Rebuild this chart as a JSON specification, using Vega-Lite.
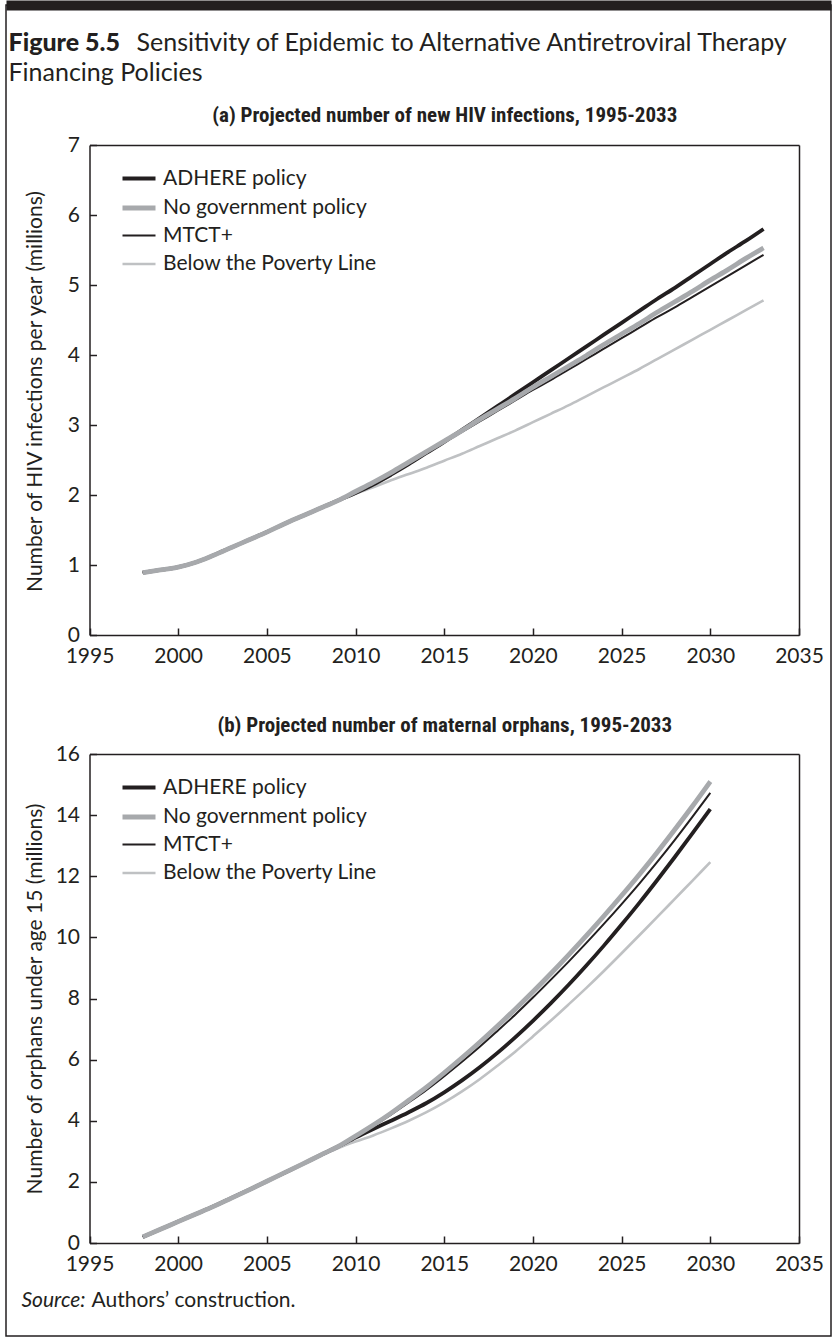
{
  "$schema": "https://vega.github.io/schema/vega-lite/v6.json",
  "autosize": {"type": "none"},
  "padding": {"left": 6, "top": 5, "right": 6, "bottom": 4},
  "width": 825,
  "height": 1331,
  "background": "white",
  "datasets": {
    "hiv": [
      {"policy":"Below the Poverty Line","year":1998,"value":0.89},{"policy":"Below the Poverty Line","year":1999,"value":0.93},{"policy":"Below the Poverty Line","year":2000,"value":0.97},{"policy":"Below the Poverty Line","year":2001,"value":1.04},{"policy":"Below the Poverty Line","year":2002,"value":1.14},{"policy":"Below the Poverty Line","year":2003,"value":1.25},{"policy":"Below the Poverty Line","year":2004,"value":1.36},{"policy":"Below the Poverty Line","year":2005,"value":1.47},{"policy":"Below the Poverty Line","year":2006,"value":1.59},{"policy":"Below the Poverty Line","year":2007,"value":1.70},{"policy":"Below the Poverty Line","year":2008,"value":1.81},{"policy":"Below the Poverty Line","year":2009,"value":1.92},
      {"policy":"Below the Poverty Line","year":2010,"value":2.02},{"policy":"Below the Poverty Line","year":2011,"value":2.11},{"policy":"Below the Poverty Line","year":2012,"value":2.21},{"policy":"Below the Poverty Line","year":2013,"value":2.30},{"policy":"Below the Poverty Line","year":2014,"value":2.39},{"policy":"Below the Poverty Line","year":2015,"value":2.49},{"policy":"Below the Poverty Line","year":2016,"value":2.59},{"policy":"Below the Poverty Line","year":2017,"value":2.70},{"policy":"Below the Poverty Line","year":2018,"value":2.81},{"policy":"Below the Poverty Line","year":2019,"value":2.92},{"policy":"Below the Poverty Line","year":2020,"value":3.04},{"policy":"Below the Poverty Line","year":2021,"value":3.16},{"policy":"Below the Poverty Line","year":2022,"value":3.28},{"policy":"Below the Poverty Line","year":2023,"value":3.41},{"policy":"Below the Poverty Line","year":2024,"value":3.54},{"policy":"Below the Poverty Line","year":2025,"value":3.67},{"policy":"Below the Poverty Line","year":2026,"value":3.80},{"policy":"Below the Poverty Line","year":2027,"value":3.94},{"policy":"Below the Poverty Line","year":2028,"value":4.08},{"policy":"Below the Poverty Line","year":2029,"value":4.22},{"policy":"Below the Poverty Line","year":2030,"value":4.36},{"policy":"Below the Poverty Line","year":2031,"value":4.50},{"policy":"Below the Poverty Line","year":2032,"value":4.64},{"policy":"Below the Poverty Line","year":2033,"value":4.78},
      {"policy":"MTCT+","year":1998,"value":0.89},{"policy":"MTCT+","year":1999,"value":0.93},{"policy":"MTCT+","year":2000,"value":0.97},{"policy":"MTCT+","year":2001,"value":1.04},{"policy":"MTCT+","year":2002,"value":1.14},{"policy":"MTCT+","year":2003,"value":1.25},{"policy":"MTCT+","year":2004,"value":1.36},{"policy":"MTCT+","year":2005,"value":1.47},{"policy":"MTCT+","year":2006,"value":1.59},{"policy":"MTCT+","year":2007,"value":1.70},{"policy":"MTCT+","year":2008,"value":1.81},{"policy":"MTCT+","year":2009,"value":1.92},
      {"policy":"MTCT+","year":2010,"value":2.04},{"policy":"MTCT+","year":2011,"value":2.17},{"policy":"MTCT+","year":2012,"value":2.31},{"policy":"MTCT+","year":2013,"value":2.45},{"policy":"MTCT+","year":2014,"value":2.60},{"policy":"MTCT+","year":2015,"value":2.75},{"policy":"MTCT+","year":2016,"value":2.90},{"policy":"MTCT+","year":2017,"value":3.05},{"policy":"MTCT+","year":2018,"value":3.20},{"policy":"MTCT+","year":2019,"value":3.35},{"policy":"MTCT+","year":2020,"value":3.50},{"policy":"MTCT+","year":2021,"value":3.64},{"policy":"MTCT+","year":2022,"value":3.79},{"policy":"MTCT+","year":2023,"value":3.94},{"policy":"MTCT+","year":2024,"value":4.09},{"policy":"MTCT+","year":2025,"value":4.24},{"policy":"MTCT+","year":2026,"value":4.39},{"policy":"MTCT+","year":2027,"value":4.54},{"policy":"MTCT+","year":2028,"value":4.68},{"policy":"MTCT+","year":2029,"value":4.83},{"policy":"MTCT+","year":2030,"value":4.98},{"policy":"MTCT+","year":2031,"value":5.13},{"policy":"MTCT+","year":2032,"value":5.28},{"policy":"MTCT+","year":2033,"value":5.43},
      {"policy":"ADHERE policy","year":1998,"value":0.89},{"policy":"ADHERE policy","year":1999,"value":0.93},{"policy":"ADHERE policy","year":2000,"value":0.97},{"policy":"ADHERE policy","year":2001,"value":1.04},{"policy":"ADHERE policy","year":2002,"value":1.14},{"policy":"ADHERE policy","year":2003,"value":1.25},{"policy":"ADHERE policy","year":2004,"value":1.36},{"policy":"ADHERE policy","year":2005,"value":1.47},{"policy":"ADHERE policy","year":2006,"value":1.59},{"policy":"ADHERE policy","year":2007,"value":1.70},{"policy":"ADHERE policy","year":2008,"value":1.81},{"policy":"ADHERE policy","year":2009,"value":1.92},
      {"policy":"ADHERE policy","year":2010,"value":2.03},{"policy":"ADHERE policy","year":2011,"value":2.15},{"policy":"ADHERE policy","year":2012,"value":2.29},{"policy":"ADHERE policy","year":2013,"value":2.44},{"policy":"ADHERE policy","year":2014,"value":2.60},{"policy":"ADHERE policy","year":2015,"value":2.76},{"policy":"ADHERE policy","year":2016,"value":2.93},{"policy":"ADHERE policy","year":2017,"value":3.10},{"policy":"ADHERE policy","year":2018,"value":3.27},{"policy":"ADHERE policy","year":2019,"value":3.44},{"policy":"ADHERE policy","year":2020,"value":3.61},{"policy":"ADHERE policy","year":2021,"value":3.78},{"policy":"ADHERE policy","year":2022,"value":3.95},{"policy":"ADHERE policy","year":2023,"value":4.12},{"policy":"ADHERE policy","year":2024,"value":4.29},{"policy":"ADHERE policy","year":2025,"value":4.46},{"policy":"ADHERE policy","year":2026,"value":4.63},{"policy":"ADHERE policy","year":2027,"value":4.80},{"policy":"ADHERE policy","year":2028,"value":4.96},{"policy":"ADHERE policy","year":2029,"value":5.13},{"policy":"ADHERE policy","year":2030,"value":5.30},{"policy":"ADHERE policy","year":2031,"value":5.47},{"policy":"ADHERE policy","year":2032,"value":5.63},{"policy":"ADHERE policy","year":2033,"value":5.80},
      {"policy":"No government policy","year":1998,"value":0.89},{"policy":"No government policy","year":1999,"value":0.93},{"policy":"No government policy","year":2000,"value":0.97},{"policy":"No government policy","year":2001,"value":1.04},{"policy":"No government policy","year":2002,"value":1.14},{"policy":"No government policy","year":2003,"value":1.25},{"policy":"No government policy","year":2004,"value":1.36},{"policy":"No government policy","year":2005,"value":1.47},{"policy":"No government policy","year":2006,"value":1.59},{"policy":"No government policy","year":2007,"value":1.70},{"policy":"No government policy","year":2008,"value":1.81},{"policy":"No government policy","year":2009,"value":1.92},
      {"policy":"No government policy","year":2010,"value":2.05},{"policy":"No government policy","year":2011,"value":2.18},{"policy":"No government policy","year":2012,"value":2.32},{"policy":"No government policy","year":2013,"value":2.47},{"policy":"No government policy","year":2014,"value":2.62},{"policy":"No government policy","year":2015,"value":2.77},{"policy":"No government policy","year":2016,"value":2.92},{"policy":"No government policy","year":2017,"value":3.08},{"policy":"No government policy","year":2018,"value":3.23},{"policy":"No government policy","year":2019,"value":3.38},{"policy":"No government policy","year":2020,"value":3.54},{"policy":"No government policy","year":2021,"value":3.69},{"policy":"No government policy","year":2022,"value":3.84},{"policy":"No government policy","year":2023,"value":3.99},{"policy":"No government policy","year":2024,"value":4.15},{"policy":"No government policy","year":2025,"value":4.30},{"policy":"No government policy","year":2026,"value":4.45},{"policy":"No government policy","year":2027,"value":4.61},{"policy":"No government policy","year":2028,"value":4.76},{"policy":"No government policy","year":2029,"value":4.91},{"policy":"No government policy","year":2030,"value":5.07},{"policy":"No government policy","year":2031,"value":5.22},{"policy":"No government policy","year":2032,"value":5.38},{"policy":"No government policy","year":2033,"value":5.53}
    ],
    "orph": [
      {"policy":"Below the Poverty Line","year":1998,"value":0.20},{"policy":"Below the Poverty Line","year":1999,"value":0.45},{"policy":"Below the Poverty Line","year":2000,"value":0.70},{"policy":"Below the Poverty Line","year":2001,"value":0.95},{"policy":"Below the Poverty Line","year":2002,"value":1.20},{"policy":"Below the Poverty Line","year":2003,"value":1.47},{"policy":"Below the Poverty Line","year":2004,"value":1.74},{"policy":"Below the Poverty Line","year":2005,"value":2.02},{"policy":"Below the Poverty Line","year":2006,"value":2.30},{"policy":"Below the Poverty Line","year":2007,"value":2.58},{"policy":"Below the Poverty Line","year":2008,"value":2.85},{"policy":"Below the Poverty Line","year":2009,"value":3.10},
      {"policy":"Below the Poverty Line","year":2010,"value":3.32},{"policy":"Below the Poverty Line","year":2011,"value":3.52},{"policy":"Below the Poverty Line","year":2012,"value":3.75},{"policy":"Below the Poverty Line","year":2013,"value":4.00},{"policy":"Below the Poverty Line","year":2014,"value":4.28},{"policy":"Below the Poverty Line","year":2015,"value":4.60},{"policy":"Below the Poverty Line","year":2016,"value":4.96},{"policy":"Below the Poverty Line","year":2017,"value":5.36},{"policy":"Below the Poverty Line","year":2018,"value":5.80},{"policy":"Below the Poverty Line","year":2019,"value":6.26},{"policy":"Below the Poverty Line","year":2020,"value":6.76},{"policy":"Below the Poverty Line","year":2021,"value":7.27},{"policy":"Below the Poverty Line","year":2022,"value":7.80},{"policy":"Below the Poverty Line","year":2023,"value":8.34},{"policy":"Below the Poverty Line","year":2024,"value":8.90},{"policy":"Below the Poverty Line","year":2025,"value":9.48},{"policy":"Below the Poverty Line","year":2026,"value":10.07},{"policy":"Below the Poverty Line","year":2027,"value":10.66},{"policy":"Below the Poverty Line","year":2028,"value":11.26},{"policy":"Below the Poverty Line","year":2029,"value":11.86},{"policy":"Below the Poverty Line","year":2030,"value":12.46},
      {"policy":"MTCT+","year":1998,"value":0.20},{"policy":"MTCT+","year":1999,"value":0.45},{"policy":"MTCT+","year":2000,"value":0.70},{"policy":"MTCT+","year":2001,"value":0.95},{"policy":"MTCT+","year":2002,"value":1.20},{"policy":"MTCT+","year":2003,"value":1.47},{"policy":"MTCT+","year":2004,"value":1.74},{"policy":"MTCT+","year":2005,"value":2.02},{"policy":"MTCT+","year":2006,"value":2.30},{"policy":"MTCT+","year":2007,"value":2.58},{"policy":"MTCT+","year":2008,"value":2.87},{"policy":"MTCT+","year":2009,"value":3.15},
      {"policy":"MTCT+","year":2010,"value":3.48},{"policy":"MTCT+","year":2011,"value":3.83},{"policy":"MTCT+","year":2012,"value":4.20},{"policy":"MTCT+","year":2013,"value":4.60},{"policy":"MTCT+","year":2014,"value":5.01},{"policy":"MTCT+","year":2015,"value":5.46},{"policy":"MTCT+","year":2016,"value":5.93},{"policy":"MTCT+","year":2017,"value":6.42},{"policy":"MTCT+","year":2018,"value":6.94},{"policy":"MTCT+","year":2019,"value":7.47},{"policy":"MTCT+","year":2020,"value":8.03},{"policy":"MTCT+","year":2021,"value":8.61},{"policy":"MTCT+","year":2022,"value":9.20},{"policy":"MTCT+","year":2023,"value":9.81},{"policy":"MTCT+","year":2024,"value":10.44},{"policy":"MTCT+","year":2025,"value":11.09},{"policy":"MTCT+","year":2026,"value":11.76},{"policy":"MTCT+","year":2027,"value":12.46},{"policy":"MTCT+","year":2028,"value":13.19},{"policy":"MTCT+","year":2029,"value":13.95},{"policy":"MTCT+","year":2030,"value":14.73},
      {"policy":"ADHERE policy","year":1998,"value":0.20},{"policy":"ADHERE policy","year":1999,"value":0.45},{"policy":"ADHERE policy","year":2000,"value":0.70},{"policy":"ADHERE policy","year":2001,"value":0.95},{"policy":"ADHERE policy","year":2002,"value":1.20},{"policy":"ADHERE policy","year":2003,"value":1.47},{"policy":"ADHERE policy","year":2004,"value":1.74},{"policy":"ADHERE policy","year":2005,"value":2.02},{"policy":"ADHERE policy","year":2006,"value":2.30},{"policy":"ADHERE policy","year":2007,"value":2.58},{"policy":"ADHERE policy","year":2008,"value":2.87},{"policy":"ADHERE policy","year":2009,"value":3.15},
      {"policy":"ADHERE policy","year":2010,"value":3.45},{"policy":"ADHERE policy","year":2011,"value":3.73},{"policy":"ADHERE policy","year":2012,"value":4.00},{"policy":"ADHERE policy","year":2013,"value":4.28},{"policy":"ADHERE policy","year":2014,"value":4.58},{"policy":"ADHERE policy","year":2015,"value":4.93},{"policy":"ADHERE policy","year":2016,"value":5.32},{"policy":"ADHERE policy","year":2017,"value":5.75},{"policy":"ADHERE policy","year":2018,"value":6.22},{"policy":"ADHERE policy","year":2019,"value":6.73},{"policy":"ADHERE policy","year":2020,"value":7.27},{"policy":"ADHERE policy","year":2021,"value":7.84},{"policy":"ADHERE policy","year":2022,"value":8.44},{"policy":"ADHERE policy","year":2023,"value":9.07},{"policy":"ADHERE policy","year":2024,"value":9.73},{"policy":"ADHERE policy","year":2025,"value":10.42},{"policy":"ADHERE policy","year":2026,"value":11.13},{"policy":"ADHERE policy","year":2027,"value":11.87},{"policy":"ADHERE policy","year":2028,"value":12.63},{"policy":"ADHERE policy","year":2029,"value":13.41},{"policy":"ADHERE policy","year":2030,"value":14.20},
      {"policy":"No government policy","year":1998,"value":0.20},{"policy":"No government policy","year":1999,"value":0.45},{"policy":"No government policy","year":2000,"value":0.70},{"policy":"No government policy","year":2001,"value":0.95},{"policy":"No government policy","year":2002,"value":1.20},{"policy":"No government policy","year":2003,"value":1.47},{"policy":"No government policy","year":2004,"value":1.74},{"policy":"No government policy","year":2005,"value":2.02},{"policy":"No government policy","year":2006,"value":2.30},{"policy":"No government policy","year":2007,"value":2.58},{"policy":"No government policy","year":2008,"value":2.87},{"policy":"No government policy","year":2009,"value":3.15},
      {"policy":"No government policy","year":2010,"value":3.50},{"policy":"No government policy","year":2011,"value":3.86},{"policy":"No government policy","year":2012,"value":4.25},{"policy":"No government policy","year":2013,"value":4.67},{"policy":"No government policy","year":2014,"value":5.10},{"policy":"No government policy","year":2015,"value":5.57},{"policy":"No government policy","year":2016,"value":6.06},{"policy":"No government policy","year":2017,"value":6.57},{"policy":"No government policy","year":2018,"value":7.10},{"policy":"No government policy","year":2019,"value":7.65},{"policy":"No government policy","year":2020,"value":8.22},{"policy":"No government policy","year":2021,"value":8.81},{"policy":"No government policy","year":2022,"value":9.42},{"policy":"No government policy","year":2023,"value":10.05},{"policy":"No government policy","year":2024,"value":10.70},{"policy":"No government policy","year":2025,"value":11.37},{"policy":"No government policy","year":2026,"value":12.06},{"policy":"No government policy","year":2027,"value":12.78},{"policy":"No government policy","year":2028,"value":13.53},{"policy":"No government policy","year":2029,"value":14.30},{"policy":"No government policy","year":2030,"value":15.10}
    ],
    "empty": []
  },
  "layer": [
    {
      "data": {"name": "empty"},
      "mark": {"type": "line"},
      "encoding": {
        "x": {"field": "year", "type": "quantitative", "scale": {"domain": [0, 1], "range": [0, 825], "nice": false, "zero": false},
              "axis": {"orient": "top", "offset": 0, "ticks": false, "labels": false, "grid": false, "domainWidth": 10, "domainColor": "#231f20",
                       "title": "Figure 5.5", "titleFont": "Lato", "titleFontSize": 25, "titleFontWeight": 900, "titleColor": "#231f20",
                       "titleX": 2, "titleY": 37, "titleAlign": "left", "titleBaseline": "middle", "titleAngle": 0}},
        "y": {"field": "value", "type": "quantitative", "scale": {"domain": [0, 1], "range": [1331, 0], "nice": false, "zero": false},
              "axis": {"orient": "left", "offset": 0, "domain": false, "ticks": false, "labels": false, "grid": false,
                       "title": "Sensitivity of Epidemic to Alternative Antiretroviral Therapy", "titleFont": "Lato", "titleFontSize": 25, "titleFontWeight": "normal", "titleColor": "#231f20",
                       "titleX": 130, "titleY": 37, "titleAlign": "left", "titleBaseline": "middle", "titleAngle": 0}}
      }
    },
    {
      "data": {"name": "hiv"},
      "mark": {"type": "line", "interpolate": "monotone"},
      "encoding": {
        "x": {"field": "year", "type": "quantitative", "scale": {"domain": [1995, 2035], "range": [83.5, 793], "nice": false, "zero": false},
              "axis": {"orient": "bottom", "offset": -701, "values": [1995, 2000, 2005, 2010, 2015, 2020, 2025, 2030, 2035], "format": "d", "title": null}},
        "y": {"field": "value", "type": "quantitative", "scale": {"domain": [0, 7], "range": [630, 140], "nice": false, "zero": false},
              "axis": {"orient": "left", "offset": -83.5, "values": [0, 1, 2, 3, 4, 5, 6, 7], "title": "Number of HIV infections per year (millions)", "titleX": -44.5, "titleY": 386}},
        "color": {"field": "policy", "type": "nominal", "scale": {"domain": ["ADHERE policy", "No government policy", "MTCT+", "Below the Poverty Line"], "range": ["#231f20", "#a7a9ac", "#231f20", "#bfc1c3"]},
                  "legend": {"orient": "none", "legendX": 114, "legendY": 155, "title": null}},
        "strokeWidth": {"field": "policy", "type": "nominal", "scale": {"type": "ordinal", "domain": ["ADHERE policy", "No government policy", "MTCT+", "Below the Poverty Line"], "range": [3.8, 4.8, 2.0, 2.6]},
                  "legend": {"orient": "none", "legendX": 114, "legendY": 155, "title": null}}
      }
    },
    {
      "data": {"name": "empty"},
      "mark": {"type": "line"},
      "encoding": {
        "x": {"field": "year", "type": "quantitative", "scale": {"domain": [1995, 2035], "range": [83.5, 793], "nice": false, "zero": false},
              "axis": {"orient": "top", "offset": -140, "ticks": false, "labels": false, "grid": false,
                       "title": "(a) Projected number of new HIV infections, 1995-2033", "titleFont": "Roboto Condensed, DejaVu Sans Condensed, Roboto", "titleFontSize": 21, "titleFontWeight": "bold",
                       "titleX": 438.25, "titleY": -30, "titleAlign": "center", "titleBaseline": "middle", "titleAngle": 0}},
        "y": {"field": "value", "type": "quantitative", "scale": {"domain": [0, 7], "range": [630, 140], "nice": false, "zero": false},
              "axis": {"orient": "right", "offset": -32, "ticks": false, "labels": false, "grid": false,
                       "title": "Financing Policies", "titleFont": "Lato", "titleFontSize": 25, "titleFontWeight": "normal",
                       "titleX": -791, "titleY": 67, "titleAlign": "left", "titleBaseline": "middle", "titleAngle": 0}}
      }
    },
    {
      "data": {"name": "orph"},
      "mark": {"type": "line", "interpolate": "monotone"},
      "encoding": {
        "x": {"field": "year", "type": "quantitative", "scale": {"domain": [1995, 2035], "range": [83.5, 793], "nice": false, "zero": false},
              "axis": {"orient": "bottom", "offset": -93, "values": [1995, 2000, 2005, 2010, 2015, 2020, 2025, 2030, 2035], "format": "d",
                       "title": "Source:", "titleFont": "Lato", "titleFontSize": 21, "titleFontStyle": "italic", "titleFontWeight": "normal",
                       "titleX": 15, "titleY": 57, "titleAlign": "left", "titleBaseline": "middle", "titleAngle": 0}},
        "y": {"field": "value", "type": "quantitative", "scale": {"domain": [0, 16], "range": [1238, 749], "nice": false, "zero": false},
              "axis": {"orient": "left", "offset": -83.5, "values": [0, 2, 4, 6, 8, 10, 12, 14, 16], "title": "Number of orphans under age 15 (millions)", "titleX": -44.5, "titleY": 993.5}},
        "color": {"field": "policy", "type": "nominal", "scale": {"domain": ["ADHERE policy", "No government policy", "MTCT+", "Below the Poverty Line"], "range": ["#231f20", "#a7a9ac", "#231f20", "#bfc1c3"]},
                  "legend": {"orient": "none", "legendX": 114, "legendY": 764, "title": null}},
        "strokeWidth": {"field": "policy", "type": "nominal", "scale": {"type": "ordinal", "domain": ["ADHERE policy", "No government policy", "MTCT+", "Below the Poverty Line"], "range": [3.8, 4.8, 2.0, 2.6]},
                  "legend": {"orient": "none", "legendX": 114, "legendY": 764, "title": null}}
      }
    },
    {
      "data": {"name": "empty"},
      "mark": {"type": "line"},
      "encoding": {
        "x": {"field": "year", "type": "quantitative", "scale": {"domain": [1995, 2035], "range": [83.5, 793], "nice": false, "zero": false},
              "axis": {"orient": "top", "offset": -749, "ticks": false, "labels": false, "grid": false,
                       "title": "(b) Projected number of maternal orphans, 1995-2033", "titleFont": "Roboto Condensed, DejaVu Sans Condensed, Roboto", "titleFontSize": 21, "titleFontWeight": "bold",
                       "titleX": 438.25, "titleY": -29, "titleAlign": "center", "titleBaseline": "middle", "titleAngle": 0}},
        "y": {"field": "value", "type": "quantitative", "scale": {"domain": [0, 16], "range": [1238, 749], "nice": false, "zero": false},
              "axis": {"orient": "right", "offset": -32, "ticks": false, "labels": false, "grid": false,
                       "title": "Authors\u2019 construction.", "titleFont": "Lato", "titleFontSize": 21, "titleFontWeight": "normal",
                       "titleX": -708, "titleY": 1295, "titleAlign": "left", "titleBaseline": "middle", "titleAngle": 0}}
      }
    }
  ],
  "resolve": {
    "scale": {"x": "independent", "y": "independent", "color": "independent", "strokeWidth": "independent"},
    "axis": {"x": "independent", "y": "independent"},
    "legend": {"color": "independent", "strokeWidth": "independent"}
  },
  "config": {
    "font": "Lato",
    "view": {"stroke": "#231f20", "strokeWidth": 1.5},
    "axis": {
      "labelFont": "Lato",
      "labelFontSize": 21,
      "labelColor": "#231f20",
      "domainColor": "#231f20",
      "domainWidth": 1.5,
      "tickColor": "#231f20",
      "tickWidth": 1.5,
      "tickSize": -7,
      "labelPadding": 17,
      "grid": false,
      "labelFlush": false,
      "labelOverlap": false,
      "titleFont": "Lato",
      "titleFontSize": 21,
      "titleFontWeight": "normal",
      "titleColor": "#231f20"
    },
    "legend": {
      "symbolType": "stroke",
      "symbolSize": 1089,
      "labelFont": "Lato",
      "labelFontSize": 21,
      "labelColor": "#231f20",
      "rowPadding": 0,
      "labelOffset": 5,
      "labelLimit": 400,
      "padding": 0
    }
  }
}
